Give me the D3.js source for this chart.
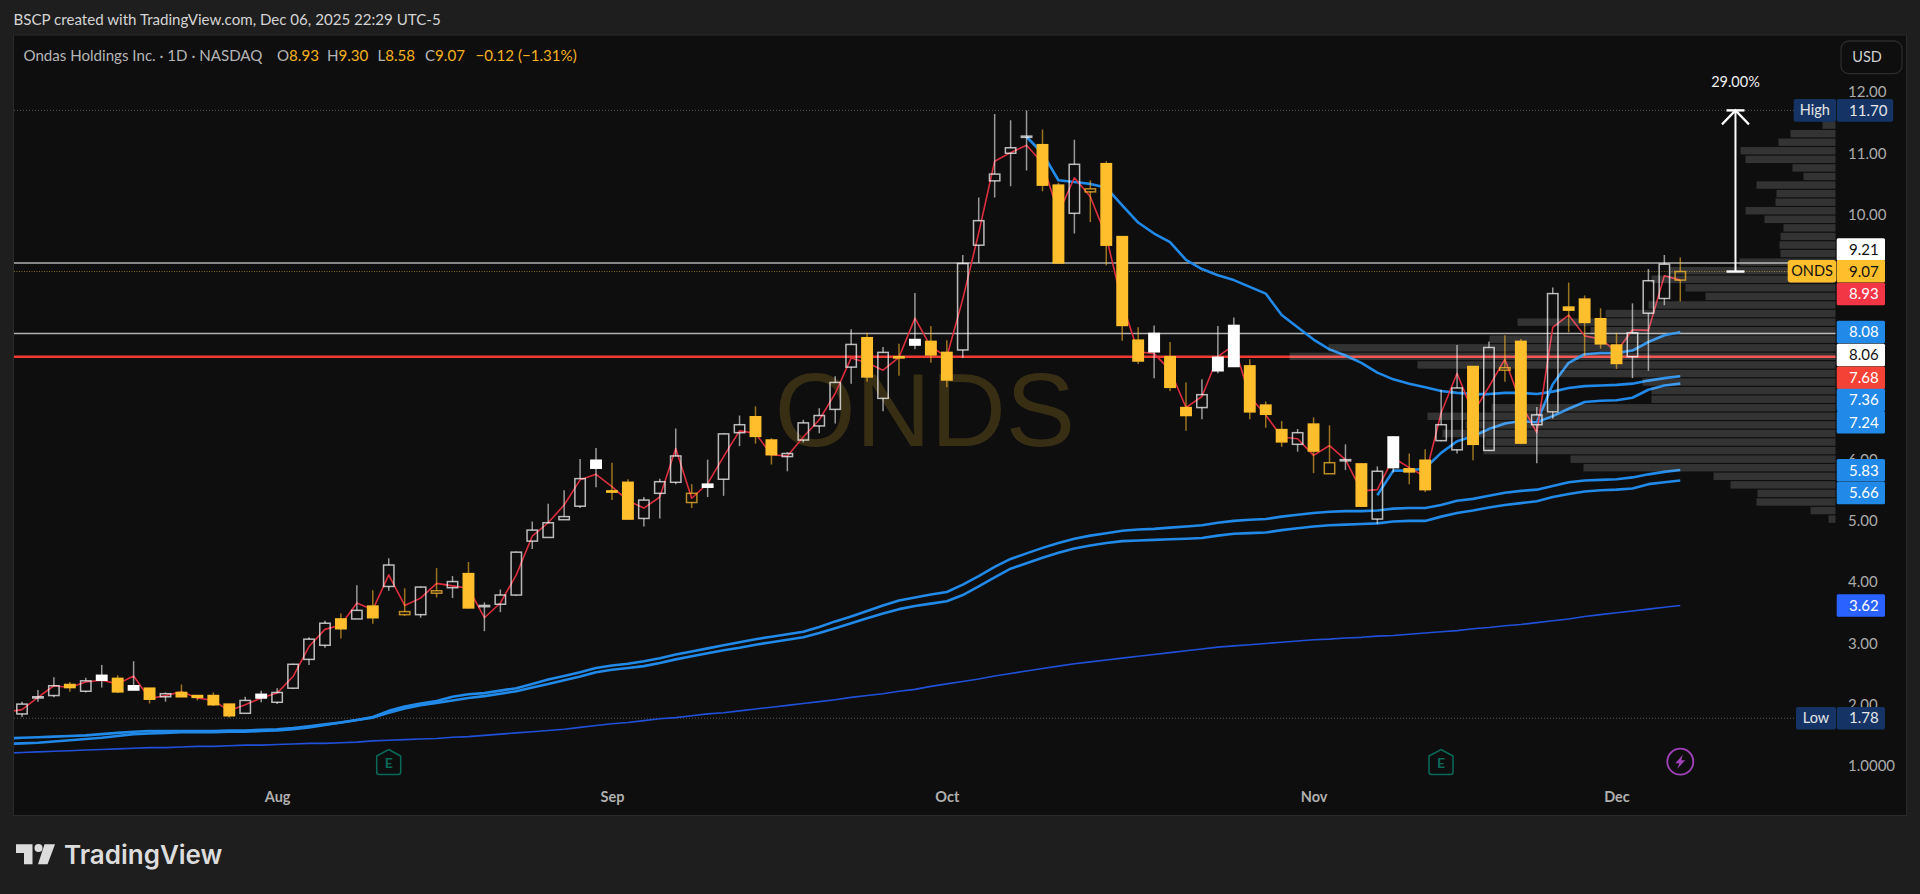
<!DOCTYPE html>
<html><head><meta charset="utf-8">
<script src="https://cdn.jsdelivr.net/npm/d3@7/dist/d3.min.js"></script>
<style>html,body{margin:0;padding:0;background:#1e1e1e;overflow:hidden}svg{display:block}text{font-family:Lato,"Open Sans",sans-serif}</style>
</head><body><svg id="c" width="1920" height="894"></svg>
<script>
const opens=[1.85,2.11,2.15,2.33,2.22,2.48,2.43,2.31,2.27,2.13,2.20,2.15,2.15,2.01,1.86,2.17,2.04,2.27,2.74,2.97,3.40,3.40,3.61,3.93,3.47,3.47,3.82,3.91,4.14,3.60,3.64,3.79,4.67,4.73,5.02,5.24,5.99,5.49,5.63,5.04,5.45,5.63,5.30,5.60,5.68,6.44,6.70,6.32,6.05,6.32,6.55,6.82,7.51,7.99,7.00,7.68,7.96,7.93,7.75,7.79,9.50,10.55,11.00,11.26,11.14,10.48,10.02,10.37,10.83,9.64,7.95,8.06,7.68,6.85,6.85,7.67,8.19,7.53,6.89,6.49,6.25,6.58,5.77,5.98,5.93,5.03,6.37,5.85,5.99,6.31,6.16,7.52,6.15,7.46,7.93,6.57,6.78,8.49,8.62,8.30,7.87,7.68,8.39,8.63,8.93];
const highs=[2.05,2.24,2.45,2.37,2.44,2.65,2.48,2.71,2.27,2.20,2.33,2.15,2.20,2.01,2.13,2.23,2.27,2.67,3.10,3.37,3.49,3.95,3.87,4.39,3.90,3.93,4.23,4.10,4.33,3.67,3.88,4.50,4.99,5.28,5.50,6.01,6.19,5.95,5.68,5.39,5.69,6.51,5.60,6.00,6.43,6.72,6.87,6.35,6.12,6.65,6.84,7.36,8.13,8.07,7.84,7.89,8.72,8.18,7.95,9.34,10.28,11.64,11.54,11.70,11.39,10.52,11.22,10.56,10.87,9.65,8.16,8.19,7.92,7.26,7.31,8.18,8.32,7.64,6.95,6.63,6.50,6.69,6.56,6.25,5.94,5.89,6.38,6.10,6.17,7.14,7.87,7.53,7.93,8.03,7.97,6.86,8.81,8.89,8.68,8.47,8.07,8.55,9.11,9.34,9.30];
const lows=[1.80,2.05,2.12,2.21,2.20,2.28,2.19,2.24,2.02,2.05,2.13,2.07,1.98,1.79,1.86,2.04,2.01,2.26,2.65,2.93,3.08,3.40,3.32,3.86,3.45,3.42,3.75,3.74,3.57,3.20,3.51,3.78,4.54,4.73,5.02,5.21,5.55,5.34,5.03,4.91,5.04,5.60,5.21,5.39,5.41,6.22,6.26,5.92,5.81,6.28,6.43,6.59,7.24,7.27,6.79,7.37,7.80,7.58,7.18,7.66,9.21,10.28,10.46,10.72,10.38,9.21,9.69,9.88,9.17,7.94,7.56,7.33,7.12,6.47,6.66,7.41,7.52,6.66,6.52,6.21,6.13,5.78,5.77,5.83,5.23,4.95,5.79,5.60,5.47,6.30,6.10,5.99,6.14,7.27,6.26,5.94,6.67,8.08,7.69,7.81,7.48,7.33,7.45,8.52,8.58];
const closes=[2.01,2.13,2.31,2.28,2.39,2.40,2.21,2.24,2.09,2.18,2.13,2.12,2.00,1.82,2.07,2.11,2.20,2.66,3.07,3.33,3.24,3.54,3.42,4.28,3.52,3.92,3.86,4.01,3.58,3.62,3.79,4.49,4.85,4.97,5.07,5.69,5.86,5.47,5.03,5.34,5.64,6.06,5.45,5.55,6.42,6.57,6.38,6.08,6.10,6.60,6.72,7.26,7.88,7.35,7.75,7.66,7.87,7.71,7.30,9.20,9.90,10.66,11.09,11.28,10.48,9.21,10.82,10.42,9.50,8.19,7.61,7.76,7.18,6.72,7.06,7.45,7.52,6.78,6.74,6.29,6.44,6.14,5.95,6.00,5.24,5.81,5.87,5.80,5.51,6.57,7.17,6.25,7.83,7.50,6.27,6.73,8.71,8.44,8.24,7.89,7.57,8.07,8.92,9.19,9.07];
const redLine=[1.92,2.12,2.31,2.28,2.37,2.40,2.34,2.47,2.10,2.15,2.21,2.11,2.07,1.90,2.00,2.11,2.19,2.46,2.95,3.23,3.30,3.66,3.55,4.12,3.62,3.74,3.98,3.94,3.90,3.42,3.66,4.12,4.75,4.97,5.26,5.67,5.76,5.56,5.33,5.21,5.39,6.18,5.37,5.61,6.05,6.47,6.43,6.08,6.06,6.37,6.65,7.08,7.66,7.58,7.46,7.67,8.31,7.84,7.68,8.62,9.70,10.87,11.01,11.13,10.84,10.02,10.60,10.29,9.64,8.55,7.76,7.73,7.46,6.85,7.03,7.68,7.87,7.03,6.73,6.37,6.34,6.07,6.23,6.00,5.49,5.51,6.03,5.87,5.72,6.76,7.41,6.76,7.19,7.64,6.92,6.44,8.16,8.36,8.02,7.97,7.76,8.12,8.11,9.00,8.93];
const vwapUpper=[1.46,1.47,1.48,1.49,1.50,1.52,1.54,1.56,1.57,1.57,1.57,1.57,1.57,1.58,1.58,1.59,1.60,1.62,1.65,1.68,1.71,1.75,1.80,1.90,1.97,2.02,2.06,2.13,2.17,2.19,2.23,2.27,2.34,2.41,2.47,2.53,2.60,2.64,2.67,2.71,2.76,2.82,2.87,2.92,2.97,3.02,3.07,3.11,3.15,3.19,3.27,3.36,3.44,3.53,3.62,3.70,3.75,3.80,3.84,3.96,4.10,4.25,4.38,4.47,4.56,4.64,4.71,4.76,4.80,4.84,4.86,4.87,4.89,4.91,4.93,4.97,5.00,5.02,5.03,5.07,5.10,5.13,5.15,5.16,5.16,5.17,5.20,5.21,5.21,5.26,5.33,5.36,5.41,5.46,5.49,5.51,5.57,5.63,5.66,5.67,5.68,5.71,5.76,5.80,5.83];
const vwapLower=[1.37,1.38,1.40,1.42,1.44,1.46,1.49,1.52,1.53,1.54,1.55,1.55,1.55,1.56,1.56,1.57,1.58,1.60,1.63,1.67,1.71,1.75,1.79,1.87,1.94,1.99,2.03,2.07,2.11,2.14,2.18,2.22,2.28,2.34,2.40,2.46,2.53,2.57,2.60,2.63,2.68,2.74,2.79,2.84,2.89,2.93,2.98,3.02,3.06,3.10,3.17,3.25,3.33,3.41,3.49,3.56,3.61,3.65,3.69,3.79,3.93,4.08,4.22,4.31,4.40,4.48,4.55,4.60,4.64,4.67,4.68,4.69,4.70,4.71,4.72,4.76,4.79,4.80,4.81,4.85,4.88,4.91,4.93,4.94,4.95,4.96,4.99,5.00,5.00,5.07,5.13,5.17,5.22,5.26,5.29,5.32,5.39,5.44,5.48,5.50,5.51,5.53,5.60,5.63,5.66];
const maThin=[1.22,1.23,1.24,1.25,1.26,1.27,1.28,1.29,1.30,1.30,1.31,1.32,1.32,1.33,1.34,1.34,1.35,1.36,1.37,1.37,1.38,1.39,1.41,1.42,1.43,1.44,1.45,1.47,1.48,1.50,1.52,1.54,1.56,1.58,1.60,1.63,1.66,1.69,1.71,1.74,1.77,1.79,1.82,1.85,1.87,1.90,1.93,1.96,1.99,2.02,2.05,2.08,2.12,2.15,2.18,2.22,2.25,2.30,2.34,2.38,2.42,2.47,2.51,2.55,2.59,2.63,2.67,2.70,2.73,2.76,2.79,2.82,2.85,2.88,2.91,2.94,2.96,2.98,3.00,3.02,3.04,3.06,3.07,3.09,3.10,3.12,3.13,3.15,3.17,3.19,3.21,3.24,3.26,3.29,3.31,3.34,3.37,3.40,3.44,3.47,3.50,3.53,3.56,3.59,3.62];
// Anchored lines: index of first candle, then values from that candle on
const anchorHighStart=63;
const anchorHigh=[11.27,11.00,10.56,10.53,10.50,10.44,10.15,9.87,9.69,9.55,9.26,9.11,9.01,8.93,8.82,8.71,8.36,8.16,7.96,7.80,7.70,7.58,7.42,7.31,7.24,7.18,7.12,7.09,7.07,7.07,7.09,7.09,7.07,7.11,7.17,7.20,7.21,7.22,7.24,7.29,7.33,7.36];
const anchorMidStart=85;
const anchorMid=[5.42,5.82,5.82,5.86,6.11,6.30,6.38,6.50,6.59,6.63,6.61,6.71,6.83,6.94,6.96,6.97,7.01,7.14,7.21,7.24];
const anchorLowStart=95;
const anchorLow=[6.61,7.23,7.58,7.72,7.74,7.74,7.78,7.92,8.03,8.08];
// value at the pane's left edge, one candle before the first
const leftEdge={red:1.88,upper:1.45,lower:1.36,thin:1.21};
const monthLabels=["Aug","Sep","Oct","Nov","Dec"];
const monthIndex=[16,37,58,81,100];
const priceTicks=[12,11,10,6,5,4,3,2,1];
const vpTopPrice=11.46, vpRowSize=0.1398;
const vpVolume=[13,45,57,95,90,43,32,79,59,60,90,71,52,55,56,55,96,166,184,150,130,187,230,318,245,346,507,546,418,276,193,184,184,344,408,370,393,350,352,265,252,122,105,78,79,25,7];
const levelWhite=[9.21,8.06];
const levelRed=7.68, lastClose=9.07, rangeHigh=11.70, rangeLow=1.78;
const measureText="29.00%";
const tagValues=["9.21","9.07","8.93","8.08","8.06","7.68","7.36","7.24","5.83","5.66","3.62"];
const tagFill=["#ffffff","#ffbe2c","#f23645","#2189e8","#ffffff","#f44336","#2189e8","#2189e8","#2189e8","#2189e8","#2962ff"];
const tagInk=["#111","#111","#fff","#fff","#111","#fff","#fff","#fff","#fff","#fff","#fff"];
const tagCenter=[249.5,271.3,294,332,355,377.7,400,422.3,470.3,493,605.5];

const svg=d3.select("#c");
const pane={l:14,r:1906,t:35.5,b:815};
const x=d3.scaleLinear().domain([0,104]).range([22,1680.3]);
const y=d3.scaleLinear().domain([12,1]).range([92,766]);
const vpW=d3.scaleLinear().domain([0,546]).range([0,546]);
const vpRight=1835.5;

svg.append("rect").attr("width",1920).attr("height",894).attr("fill","#1e1e1e");
svg.append("rect").attr("x",pane.l-.5).attr("y",pane.t-.5).attr("width",pane.r-pane.l+1).attr("height",pane.b-pane.t+1).attr("fill","#0e0e0e").attr("stroke","#2a2a2a");
svg.append("text").attr("x",13.5).attr("y",20).attr("dy",".35em").attr("font-size",15.1).attr("fill","#d4d4d4").text("BSCP created with TradingView.com, Dec 06, 2025 22:29 UTC-5");

const legend=svg.append("text").attr("y",56).attr("dy",".35em").attr("font-size",15.1).attr("fill","#b5b5b5");
legend.append("tspan").attr("x",23.5).text("Ondas Holdings Inc. · 1D · NASDAQ");
[["O","8.93",277],["H","9.30",327],["L","8.58",377.5],["C","9.07",425]].forEach(d=>{
  legend.append("tspan").attr("x",d[2]).text(d[0]);
  legend.append("tspan").attr("fill","#f5b120").text(d[1]);
});
legend.append("tspan").attr("x",475.5).attr("fill","#f5b120").text("−0.12 (−1.31%)");

svg.append("defs").append("clipPath").attr("id","p").append("rect").attr("x",pane.l).attr("y",pane.t).attr("width",pane.r-pane.l).attr("height",pane.b-pane.t);
const g=svg.append("g").attr("clip-path","url(#p)");

g.append("text").attr("x",925).attr("y",446).attr("text-anchor","middle").attr("font-size",104).attr("fill","#382e14").style("font-family","'Liberation Sans',sans-serif").text("ONDS");

// range + price lines
[rangeHigh,rangeLow].forEach(v=>g.append("line").attr("x1",pane.l).attr("x2",1795).attr("y1",y(v)).attr("y2",y(v)).attr("stroke","#5a5a5a").attr("stroke-dasharray","1 2"));
g.append("line").attr("x1",pane.l).attr("x2",1790).attr("y1",y(lastClose)).attr("y2",y(lastClose)).attr("stroke","#8a6a1c").attr("stroke-dasharray","1 1.5");
levelWhite.forEach(v=>g.append("line").attr("x1",pane.l).attr("x2",vpRight).attr("y1",y(v)).attr("y2",y(v)).attr("stroke","#b0b0b0").attr("stroke-width",1.5));
g.append("line").attr("x1",pane.l).attr("x2",vpRight).attr("y1",y(levelRed)).attr("y2",y(levelRed)).attr("stroke","#f23a35").attr("stroke-width",2.4);

// indicator lines
const line=d3.line().defined(d=>d.v!=null).x(d=>x(d.i)).y(d=>y(d.v));
const withEdge=(arr,e)=>[{i:-1,v:e}].concat(arr.map((v,i)=>({i,v})));
const fromStart=(arr,s)=>arr.map((v,k)=>({i:s+k,v}));
const drawLine=(pts,c,w)=>g.append("path").datum(pts).attr("d",line).attr("fill","none").attr("stroke",c).attr("stroke-width",w).attr("stroke-linejoin","round");
drawLine(withEdge(maThin,leftEdge.thin),"#2150d8",1.6);
drawLine(withEdge(vwapLower,leftEdge.lower),"#2189e8",2.6);
drawLine(withEdge(vwapUpper,leftEdge.upper),"#2189e8",2.6);
drawLine(fromStart(anchorHigh,anchorHighStart),"#2189e8",2.6);
drawLine(fromStart(anchorMid,anchorMidStart),"#2189e8",2.6);
drawLine(fromStart(anchorLow,anchorLowStart),"#2189e8",2.6);
drawLine(withEdge(redLine,leftEdge.red),"#dc2f3e",1.6);

// volume profile
g.append("g").selectAll("rect").data(vpVolume).join("rect")
  .attr("x",d=>vpRight-vpW(d)).attr("width",d=>vpW(d))
  .attr("y",(d,k)=>y(vpTopPrice-k*vpRowSize)-3.7).attr("height",7.4)
  .attr("fill","#fff").attr("fill-opacity",.155);

// candles
const rows=closes.map((c,i)=>{
  const o=opens[i],up=c>=o,rising=i===0||c>=closes[i-1];
  return {i,o,c,h:highs[i],l:lows[i],up,col:rising?"#ffffff":"#ffbe2c",top:Math.max(o,c),bot:Math.min(o,c)};
});
const cg=g.append("g").selectAll("g").data(rows).join("g");
cg.append("line").attr("x1",d=>x(d.i)).attr("x2",d=>x(d.i)).attr("y1",d=>y(d.h)).attr("y2",d=>y(d.top))
  .attr("stroke",d=>d.col).attr("stroke-opacity",.58).attr("stroke-width",1.5);
cg.append("line").attr("x1",d=>x(d.i)).attr("x2",d=>x(d.i)).attr("y1",d=>y(d.bot)).attr("y2",d=>y(d.l))
  .attr("stroke",d=>d.col).attr("stroke-opacity",.58).attr("stroke-width",1.5);
cg.append("rect").attr("x",d=>x(d.i)-5.2).attr("width",10.4)
  .attr("y",d=>y(d.top)).attr("height",d=>Math.max(.5,y(d.bot)-y(d.top)))
  .attr("fill",d=>d.up?"none":d.col)
  .attr("stroke",d=>d.col).attr("stroke-opacity",d=>d.up?.72:1).attr("stroke-width",1.5);

// axes
const ya=svg.append("g").attr("transform","translate(1848,0)").call(d3.axisRight(y).tickValues(priceTicks).tickSize(0).tickPadding(0).tickFormat(v=>v===1?"1.0000":v.toFixed(2)));
ya.select(".domain").remove();
ya.selectAll("text").attr("fill","#ababab").attr("font-size",15).style("font-family","Lato,sans-serif");
const xa=svg.append("g").attr("transform","translate(0,791.5)").call(d3.axisBottom(x).tickValues(monthIndex).tickSize(0).tickPadding(0).tickFormat((v,k)=>monthLabels[k]));
xa.select(".domain").remove();
xa.selectAll("text").attr("fill","#b0b0b0").attr("font-size",14.5).attr("font-weight",700).style("font-family","Lato,sans-serif");

// measure arrow
const ax=x(107.46);
const arrow=svg.append("g").attr("stroke","#fff").attr("fill","none").attr("stroke-width",2);
arrow.append("line").attr("x1",ax).attr("x2",ax).attr("y1",y(rangeHigh)).attr("y2",y(lastClose));
arrow.append("line").attr("x1",ax-9).attr("x2",ax+9).attr("y1",y(lastClose)).attr("y2",y(lastClose)).attr("stroke-width",2.4);
arrow.append("line").attr("x1",ax-9).attr("x2",ax+9).attr("y1",y(rangeHigh)).attr("y2",y(rangeHigh)).attr("stroke-width",2.4);
arrow.append("polyline").attr("points",[[ax-13.5,y(rangeHigh)+14],[ax,y(rangeHigh)],[ax+13.5,y(rangeHigh)+14]].join(" ")).attr("stroke-width",2.2);
svg.append("text").attr("x",ax).attr("y",81.7).attr("dy",".35em").attr("text-anchor","middle").attr("font-size",14.5).attr("fill","#eee").text(measureText);

// price tags
const tagG=svg.append("g").selectAll("g").data(tagValues).join("g");
tagG.append("rect").attr("x",1836.7).attr("width",48.3).attr("y",(d,k)=>tagCenter[k]-11.3).attr("height",22.6).attr("rx",1.5).attr("fill",(d,k)=>tagFill[k]);
tagG.append("text").attr("x",1849).attr("y",(d,k)=>tagCenter[k]).attr("dy",".35em").attr("font-size",15).attr("fill",(d,k)=>tagInk[k]).text(d=>d);

const tagPair=(label,val,cy,lx,vw)=>{
  svg.append("rect").attr("x",lx).attr("width",1836-lx).attr("y",cy-11.3).attr("height",22.6).attr("rx",2).attr("fill","#153465");
  svg.append("rect").attr("x",1836.7).attr("width",vw).attr("y",cy-11.3).attr("height",22.6).attr("rx",2).attr("fill","#153465");
  svg.append("text").attr("x",(lx+1836)/2).attr("y",cy).attr("dy",".35em").attr("text-anchor","middle").attr("font-size",14.5).attr("fill","#e6e6e6").text(label);
  svg.append("text").attr("x",1849).attr("y",cy).attr("dy",".35em").attr("font-size",15).attr("fill","#e6e6e6").text(val);
};
tagPair("High",rangeHigh.toFixed(2),y(rangeHigh),1793.7,56.5);
tagPair("Low",rangeLow.toFixed(2),y(rangeLow),1796,48.3);
svg.append("rect").attr("x",1787.7).attr("width",48.5).attr("y",tagCenter[1]-11.3).attr("height",22.6).attr("rx",3).attr("fill","#ffbe2c");
svg.append("text").attr("x",1812).attr("y",tagCenter[1]).attr("dy",".35em").attr("text-anchor","middle").attr("font-size",14.5).attr("fill","#111").text("ONDS");

// USD
svg.append("rect").attr("x",1841).attr("y",41).attr("width",61).attr("height",32.7).attr("rx",8).attr("fill","#0e0e0e").attr("stroke","#2c2c2c").attr("stroke-width",1.3);
svg.append("text").attr("x",1867).attr("y",57).attr("dy",".35em").attr("text-anchor","middle").attr("font-size",14.5).attr("fill","#d0d0d0").text("USD");

// earnings badges
[388.7,1441].forEach(cx=>{
  const b=svg.append("g").attr("transform",`translate(${cx},762)`);
  b.append("path").attr("d","M0,-12.5 L12,-6 L12,10 Q12,12.5 9.5,12.5 L-9.5,12.5 Q-12,12.5 -12,10 L-12,-6 Z").attr("fill","none").attr("stroke","#0a6a58").attr("stroke-width",1.5);
  b.append("text").attr("text-anchor","middle").attr("y",1).attr("dy",".35em").attr("font-size",14).attr("font-weight",700).attr("fill","#0a6a58").text("E");
});
const bolt=svg.append("g").attr("transform",`translate(${x(104)},761.7)`);
bolt.append("circle").attr("r",13).attr("fill","none").attr("stroke","#a043b8").attr("stroke-width",1.8);
bolt.append("path").attr("d","M2.5,-7 L-5,1.5 L-1,1.5 L-3,7 L5,-1.5 L1,-1.5 Z").attr("fill","#a043b8");

// footer logo
const logo=svg.append("g").attr("fill","#dcdcdc");
logo.append("path").attr("d","M16,844.3 H32.5 V864.3 H24 V853 H16 Z");
logo.append("circle").attr("cx",38.5).attr("cy",848).attr("r",4);
logo.append("path").attr("d","M44.5,844.3 H55 L47.5,864.3 H38 Z");
svg.append("text").attr("x",64).attr("y",855).attr("dy",".35em").attr("font-size",26).attr("font-weight",600).attr("fill","#dcdcdc").style("font-family","Inter,Lato,sans-serif").text("TradingView");
</script></body></html>
